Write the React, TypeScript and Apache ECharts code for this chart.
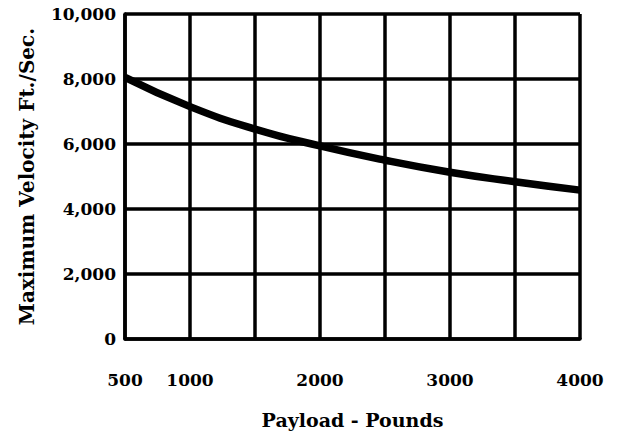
import React, { useEffect, useRef } from "react";
import * as echarts from "echarts";

const payload = [500, 1000, 1500, 2000, 2500, 3000, 3500, 4000];
const velocity = [8050, 7150, 6460, 5940, 5500, 5130, 4840, 4580];
const xLabels = [500, 1000, 2000, 3000, 4000];
const yTickLabels: Record<number, string> = {
  0: "0",
  2000: "2,000",
  4000: "4,000",
  6000: "6,000",
  8000: "8,000",
  10000: "10,000",
};
const xName = "Payload - Pounds";
const yName = "Maximum Velocity Ft./Sec.";

const FONT = "DejaVu Serif";

export default function App() {
  const ref = useRef<HTMLDivElement>(null);
  useEffect(() => {
    if (!ref.current) return;
    const chart = echarts.init(ref.current, undefined, { renderer: "svg" });
    chart.setOption({
      animation: false,
      backgroundColor: "#ffffff",
      grid: { left: 125, right: 39, top: 14, bottom: 104 },
      xAxis: {
        type: "value",
        min: 500,
        max: 4000,
        interval: 500,
        name: xName,
        nameLocation: "middle",
        nameGap: 71,
        nameTextStyle: { fontFamily: FONT, fontWeight: "bold", fontSize: 19, color: "#000" },
        axisLine: { show: true, lineStyle: { color: "#000", width: 3.5 } },
        axisTick: { show: false },
        axisLabel: {
          margin: 32,
          fontFamily: FONT,
          fontWeight: "bold",
          fontSize: 17,
          color: "#000",
          formatter: (v: number) => (xLabels.includes(v) ? String(v) : ""),
        },
        splitLine: { show: true, lineStyle: { color: "#000", width: 3.5 } },
      },
      yAxis: {
        type: "value",
        min: 0,
        max: 10000,
        interval: 2000,
        name: yName,
        nameLocation: "middle",
        nameRotate: 90,
        nameGap: 88,
        nameTextStyle: { fontFamily: FONT, fontWeight: "bold", fontSize: 20, color: "#000" },
        axisLine: { show: true, lineStyle: { color: "#000", width: 3.5 } },
        axisTick: { show: false },
        axisLabel: {
          margin: 9,
          fontFamily: FONT,
          fontWeight: "bold",
          fontSize: 17,
          color: "#000",
          formatter: (v: number) => yTickLabels[v] ?? "",
        },
        splitLine: { show: true, lineStyle: { color: "#000", width: 3.5 } },
      },
      series: [
        {
          type: "line",
          data: payload.map((p, i) => [p, velocity[i]]),
          smooth: true,
          symbol: "none",
          lineStyle: { color: "#000", width: 7.5 },
        },
      ],
    });
    return () => chart.dispose();
  }, []);
  return (
    <div
      ref={ref}
      style={{ position: "absolute", left: 0, top: 0, width: 619, height: 443 }}
    />
  );
}
